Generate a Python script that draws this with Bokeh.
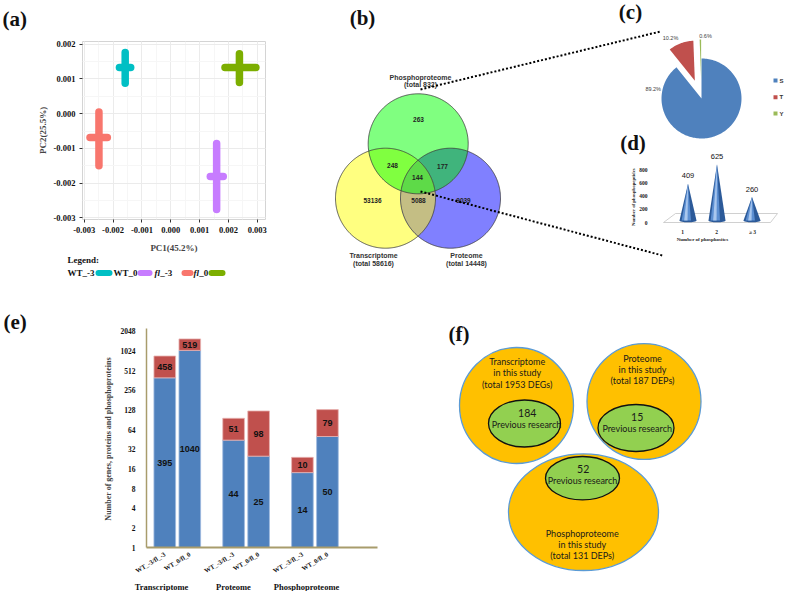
import numpy as np
from bokeh.plotting import figure
from bokeh.layouts import column, row
from bokeh.models import (Range1d, SingleIntervalTicker, FixedTicker, NumeralTickFormatter)
from bokeh.core.properties import value
from bokeh.embed import file_html
from bokeh.resources import INLINE

SERIF = "Liberation Serif"
SANS = "Liberation Sans"

# ---------------- data ----------------
# (a) PCA
pca_groups = ["WT_-3", "WT_0", "fl_-3", "fl_0"]
pca_colors = ["#00BFC4", "#C77CFF", "#F8766D", "#7CAE00"]
pc1_center = [-0.00158, 0.00159, -0.00249, 0.00238]
pc2_center = [0.00133, -0.00181, -0.00069, 0.00133]
pc1_low = [-0.00178, 0.00137, -0.00280, 0.00188]
pc1_high = [-0.00139, 0.00182, -0.00220, 0.00295]
pc2_low = [0.00088, -0.00276, -0.00150, 0.00090]
pc2_high = [0.00176, -0.00086, 0.00005, 0.00173]

# (b) Venn
venn_sets = ["Phosphoproteome", "Transcriptome", "Proteome"]
venn_totals = [832, 58616, 14448]
venn_counts = [263, 248, 177, 144, 53136, 5088, 9039]

# (c) pie
pie_labels = ["S", "T", "Y"]
pie_pct = [89.2, 10.2, 0.6]
pie_colors = ["#4F81BD", "#C0504D", "#9BBB59"]

# (d) cones
cone_cats = ["1", "2", "\u2265 3"]
cone_vals = [409, 625, 260]
cone_ticks = [0, 200, 400, 600, 800]

# (e) stacked bars
e_groups = ["Transcriptome", "Proteome", "Phosphoproteome"]
e_comparisons = ["WT_-3/fl_-3", "WT_0/fl_0"]
e_blue = [395, 1040, 44, 25, 14, 50]
e_red = [458, 519, 51, 98, 10, 79]
e_yticks = [1, 2, 4, 8, 16, 32, 64, 128, 256, 512, 1024, 2048]

# (f)
f_sets = ["Transcriptome", "Proteome", "Phosphoproteome"]
f_totals = [1953, 187, 131]
f_units = ["DEGs", "DEPs", "DEPs"]
f_previous = [184, 15, 52]


def blank(w, h, x0, x1, y0, y1):
    """Axis-free canvas whose data units are page pixels (y downwards)."""
    p = figure(width=w, height=h, x_range=Range1d(x0, x1), y_range=Range1d(y1, y0),
               output_backend="svg", toolbar_location=None, frame_align=False,
               x_axis_location=None, y_axis_location=None, min_border=0)
    p.grid.visible = False
    p.outline_line_color = None
    return p


def txt(p, x, y, t, size, font=SERIF, style="bold", color="#111111", align="center", **kw):
    p.text(x=x, y=y, text=t, text_font=value(font), text_font_style=style,
           text_font_size=size, text_color=color, text_align=align,
           text_baseline="middle", **kw)


# =============== (a) ===============
a_left = blank(34, 256, 0, 34, 0, 256)
txt(a_left, [2], [18], ["(a)"], "21px", align="left")

pa = figure(width=266, height=256,
            x_range=Range1d(-0.00306, 0.003284), y_range=Range1d(-0.00305, 0.00208),
            output_backend="svg", toolbar_location=None, frame_align=False,
            min_border_left=43, min_border_right=35, min_border_top=41, min_border_bottom=37)
pa.segment(x0=pc1_low, y0=pc2_center, x1=pc1_high, y1=pc2_center,
           line_color=pca_colors, line_width=7.5, line_cap="round")
pa.segment(x0=pc1_center, y0=pc2_low, x1=pc1_center, y1=pc2_high,
           line_color=pca_colors, line_width=7.5, line_cap="round")
for ax in (pa.xaxis[0], pa.yaxis[0]):
    ax.ticker = SingleIntervalTicker(interval=0.001, num_minor_ticks=2)
    ax.formatter = NumeralTickFormatter(format="0.000")
    ax.major_label_text_font = SERIF
    ax.major_label_text_font_style = "bold"
    ax.major_label_text_font_size = "8.5px"
    ax.major_label_text_color = "#111111"
    ax.axis_label_text_font = SERIF
    ax.axis_label_text_font_style = "bold"
    ax.axis_label_text_font_size = "9px"
    ax.axis_line_color = None
    ax.major_tick_line_color = "#333333"
    ax.major_tick_out = 3
    ax.major_tick_in = 0
    ax.minor_tick_line_color = None
    ax.major_label_standoff = 3
    ax.axis_label_standoff = 3
pa.xaxis.axis_label = "PC1(45.2%)"
pa.yaxis.axis_label = "PC2(25.5%)"
pa.xaxis.axis_label_standoff = 7
pa.grid.grid_line_color = "#ebebeb"
pa.grid.minor_grid_line_color = "#f6f6f6"
pa.outline_line_color = "#d4d4d4"

a_leg = blank(300, 34, 0, 300, 256, 290)
txt(a_leg, [67], [259.5], ["Legend:"], "9px", align="left")
leg_text_x = [67, 113, 154, 193]
leg_sw_x0 = [98, 140, 184, 211]
leg_sw_x1 = [109, 149, 190, 222]
for name, tx in zip(pca_groups, leg_text_x):
    if name.startswith("fl"):
        txt(a_leg, [tx], [272], ["fl"], "9px", style="bold italic", align="left")
        txt(a_leg, [tx + 5.8], [272], [name[2:]], "9px", align="left")
    else:
        txt(a_leg, [tx], [272], [name], "9px", align="left")
a_leg.segment(x0=leg_sw_x0, y0=[272.5] * 4, x1=leg_sw_x1, y1=[272.5] * 4,
              line_color=pca_colors, line_width=6, line_cap="round")

# =============== (b)(c)(d) ===============
pb = blank(487, 290, 300, 787, 0, 290)


def circ(c, r, n=360):
    t = np.linspace(0, 2 * np.pi, n, endpoint=False)
    return c[0] + r * np.cos(t), c[1] + r * np.sin(t)


def inter(disks, n=1440):
    pts = []
    for i, (c, r) in enumerate(disks):
        x, y = circ(c, r, n)
        m = np.ones(n, bool)
        for j, (c2, r2) in enumerate(disks):
            if j != i:
                m &= np.hypot(x - c2[0], y - c2[1]) <= r2 + 1e-9
        pts.append(np.c_[x[m], y[m]])
    pts = np.vstack(pts)
    mc = pts.mean(0)
    o = np.argsort(np.arctan2(pts[:, 1] - mc[1], pts[:, 0] - mc[0]))
    return list(pts[o, 0]), list(pts[o, 1])


dP = ((417.7, 143.3), 50)
dT = ((385.0, 197.7), 50)
dR = ((450.0, 197.7), 50)
pieces = [([dT], "#FFFF80"), ([dR], "#8080FF"), ([dP], "#80FF80"),
          ([dT, dP], "#80FF40"), ([dP, dR], "#40B47C"), ([dT, dR], "#C4BE84"),
          ([dT, dP, dR], "#5EDA48")]
for disks, col in pieces:
    if len(disks) == 1:
        x, y = circ(*disks[0])
        x, y = list(x), list(y)
    else:
        x, y = inter(disks)
    pb.patch(x, y, fill_color=col, line_color=None)
for d in (dT, dR, dP):
    x, y = circ(*d)
    pb.patch(list(x), list(y), fill_color=None, line_color="#3a3a3a", line_width=0.8)

venn_pos_x = [418, 392, 442, 417, 372, 418, 463]
venn_pos_y = [119, 165, 166, 177, 200, 200, 200]
txt(pb, venn_pos_x, venn_pos_y, [str(v) for v in venn_counts], "6.5px", font=SANS,
    color="#222222")
set_lx = [420, 373, 466]
set_ly = [76.7, 255, 255]
txt(pb, set_lx, set_ly, venn_sets, "7px", font=SANS, color="#333333")
txt(pb, set_lx, [v + 7.5 for v in set_ly], [f"(total {t})" for t in venn_totals], "7px",
    font=SANS, color="#333333")

# connectors
pb.line(x=[420, 660], y=[89, 31], line_color="black", line_width=2, line_dash="2 2")
pb.line(x=[420, 662], y=[191, 255], line_color="black", line_width=2, line_dash="2 2")

# pie (c)
pcx, pcy, pr = 701.0, 98.0, 40.0
explode = [0, 19, 19]
cum = np.cumsum([0] + pie_pct) / 100.0 * 2 * np.pi
for i in range(3):
    a0, a1 = cum[i], cum[i + 1]
    mid = 0.5 * (a0 + a1)
    ox, oy = explode[i] * np.sin(mid), -explode[i] * np.cos(mid)
    t = np.linspace(a0, a1, max(4, int(200 * (a1 - a0) / (2 * np.pi)) + 2))
    xs = [pcx + ox] + list(pcx + ox + pr * np.sin(t))
    ys = [pcy + oy] + list(pcy + oy - pr * np.cos(t))
    pb.patch(xs, ys, fill_color=pie_colors[i], line_color=None)
txt(pb, [652.7, 670, 705], [88, 37, 35], [f"{v}%" for v in pie_pct], "5.5px", font=SANS,
    style="normal", color="#404040")
pie_leg_y = [80, 96.7, 113]
pb.rect(x=[775] * 3, y=pie_leg_y, width=4, height=4, fill_color=pie_colors, line_color=None)
txt(pb, [779] * 3, pie_leg_y, pie_labels, "6px", font=SANS, color="#333333", align="left")

# cones (d)
pb.patch([663, 770, 777, 675], [222, 222, 213, 213], fill_color=None,
         line_color="#c4c4c4", line_width=0.8)
cone_x = [687.5, 716.5, 751.5]
base_y, k, hw = 220.0, 0.09, 8.5
tops = []
for xc, v in zip(cone_x, cone_vals):
    top = base_y - v * k
    tops.append(top)
    pb.ellipse(x=xc, y=base_y, width=2 * hw, height=3.5, fill_color="#2C5A99", line_color=None)
    pb.patch([xc - hw, xc, xc + hw], [base_y, top, base_y], fill_color="#2C5A99", line_color=None)
    pb.patch([xc - 0.75 * hw, xc, xc + 0.35 * hw], [base_y, top, base_y], fill_color="#5C8FD2",
             line_color=None)
    pb.patch([xc - 0.45 * hw, xc, xc - 0.05 * hw], [base_y, top, base_y], fill_color="#A9C7EE",
             line_color=None)
txt(pb, cone_x, [t - 8 for t in tops], [str(v) for v in cone_vals], "7.5px", font=SANS,
    style="normal")
txt(pb, [647] * len(cone_ticks), [222 - t * 53 / 800 for t in cone_ticks],
    [str(t) for t in cone_ticks], "5.5px", color="#222222", align="right")
txt(pb, [682, 716, 752], [231] * 3, cone_cats, "5.5px", color="#222222")
txt(pb, [702], [239], ["Number of phosphosites"], "5px", color="#222222")
txt(pb, [633], [196], ["Number of  phosphopeptides"], "4.8px", color="#222222",
    angle=np.pi / 2)
txt(pb, [362, 630, 632.5], [17.5, 11, 142.5], ["(b)", "(c)", "(d)"], "21px")

# =============== (e) ===============
e_left = blank(100, 301, 0, 100, 290, 591)
txt(e_left, [3], [321.5], ["(e)"], "21px", align="left")

xs_e = [g * 11 + s * 4 for g in range(len(e_groups)) for s in range(len(e_comparisons))]
pe = figure(width=285, height=290, y_axis_type="log",
            x_range=Range1d(-2.92, 34.0), y_range=Range1d(1, 2250),
            output_backend="svg", toolbar_location=None, frame_align=False,
            min_border_left=37, min_border_right=8, min_border_top=38, min_border_bottom=33)
tot = [b + r for b, r in zip(e_blue, e_red)]
pe.vbar(x=xs_e, bottom=1, top=e_blue, width=3.46, fill_color="#4F81BD",
        line_color="#9DB9DE", line_width=0.8)
pe.vbar(x=xs_e, bottom=e_blue, top=tot, width=3.46, fill_color="#C0504D",
        line_color="#E8B4B3", line_width=0.8)
txt(pe, xs_e, [np.sqrt(b) for b in e_blue], [str(b) for b in e_blue], "9px", font=SANS)
txt(pe, xs_e, [np.sqrt(b * t) for b, t in zip(e_blue, tot)], [str(r) for r in e_red], "9px",
    font=SANS)
pe.grid.visible = False
pe.outline_line_color = None
ya = pe.yaxis[0]
ya.ticker = FixedTicker(ticks=e_yticks)
ya.formatter = NumeralTickFormatter(format="0")
ya.axis_label = "Number of  genes, proteins and phosphoproteins"
xa = pe.xaxis[0]
xa.ticker = FixedTicker(ticks=xs_e)
xa.major_label_overrides = {x: e_comparisons[i % 2] for i, x in enumerate(xs_e)}
xa.major_label_orientation = 0.55
for ax in (xa, ya):
    ax.axis_line_color = "#A89C6C"
    ax.major_tick_line_color = None
    ax.minor_tick_line_color = None
    ax.major_label_text_font = SERIF
    ax.major_label_text_font_style = "bold"
    ax.major_label_text_color = "#111111"
    ax.axis_label_text_font = SERIF
    ax.axis_label_text_font_style = "bold"
    ax.axis_label_text_font_size = "8px"
xa.axis_line_width = 2
ya.axis_line_width = 1.5
ya.major_label_text_font_size = "7.5px"
xa.major_label_text_font_size = "6.5px"
xa.major_label_standoff = 0
ya.major_label_standoff = 5
ya.axis_label_standoff = 5

e_bot = blank(285, 11, 100, 385, 580, 591)
txt(e_bot, [161, 233, 306], [585] * 3, e_groups, "8.5px")

# =============== (f) ===============
pf = blank(402, 301, 385, 787, 290, 591)
big_x = [516, 643.5, 583]
big_y = [405, 401, 511.7]
big_w = [114, 114, 150]
big_h = [116, 116, 116.6]
pf.ellipse(x=big_x, y=big_y, width=big_w, height=big_h, fill_color="#FFC000",
           line_color="#5B9BD5", line_width=1.3)
in_x = [524, 635.5, 582]
in_y = [423, 427.5, 477.7]
pf.ellipse(x=in_x, y=in_y, width=[72, 76, 74], height=[47, 47, 43.4], fill_color="#92D050",
           line_color="#111111", line_width=1.3)
head_x = [516.7, 642, 581.7]
head_y = [361, 357.7, 532.7]
for dy, lines in ((0, f_sets), (11.3, ["in this study"] * 3),
                  (22.6, [f"(total {t} {u})" for t, u in zip(f_totals, f_units)])):
    txt(pf, head_x, [v + dy for v in head_y], lines, "9px", font="Lato", style="normal",
        color="#1a1a1a")
txt(pf, [526.7, 636.7, 582.7], [412.3, 416, 468.3], [str(v) for v in f_previous], "10.5px",
    font="Lato", style="normal", color="#1a1a1a")
txt(pf, [526, 636.7, 582], [424, 427.7, 480], ["Previous research"] * 3, "9px", font="Lato",
    style="normal", color="#1a1a1a")
txt(pf, [448], [333.5], ["(f)"], "21px", align="left")

layout = column(
    row(column(row(a_left, pa), a_leg), pb),
    row(e_left, column(pe, e_bot), pf),
)
open("out.html", "w").write(file_html(layout, INLINE))
